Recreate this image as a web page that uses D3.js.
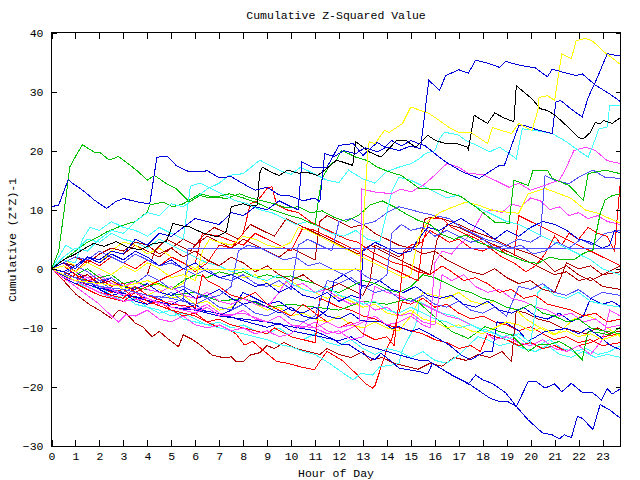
<!DOCTYPE html>
<html>
<head>
<meta charset="utf-8">
<script src="https://cdn.jsdelivr.net/npm/d3@7"></script>
<style>
  body { margin: 0; background: #fff; }
  text { font-family: "Liberation Mono", "DejaVu Sans Mono", monospace; font-size: 11.5px; fill: #000; }
</style>
</head>
<body>
<svg id="chart" width="640" height="480"></svg>
<script>
const hourTicks = d3.range(0, 24);
const valueTicks = [-30, -20, -10, 0, 10, 20, 30, 40];

// [hour, cumulative value] pairs
const greenTop = [[0,0],[0.3,3],[0.6,12],[0.76,17.2],[1,19],[1.29,21],[1.8,19.7],[2.05,19.6],[2.4,18.4],[2.8,19],[3.2,17.8],[3.6,16.5],[4,15],[4.3,15.8],[4.8,14.4],[5.2,13.6],[5.75,11.3],[6.2,12.4],[6.6,12],[7,12.3],[7.43,12.7],[8,12],[8.5,11.3],[9.2,10],[9.86,9.1],[10.4,8.5],[11,7.4],[11.15,12],[11.3,15.3],[11.6,17.5],[11.9,18.4],[12.1,20],[12.4,19.5],[12.7,18.9],[13.2,18.3],[13.6,17.2],[14.1,16.4],[14.6,15.8],[15.35,13.6],[16.2,13.4],[16.7,12.7],[17.1,12.2],[17.7,10.5],[18.1,9.2],[18.5,7.9],[19.1,7.7],[19.3,15],[19.9,14.1],[20.1,16.7],[20.7,16.7],[20.9,15.3],[21.6,14.1],[22.2,11.6],[22.4,16.1],[23.1,16.7],[23.75,16.1]];
const navyA = [[0,10.5],[0.3,10.8],[0.7,15.1],[0.9,14.4],[1.3,13.3],[1.8,11.6],[2.3,10.2],[2.65,11.3],[3,11.9],[3.6,11.3],[4.1,11],[4.4,18.9],[4.85,19],[5.2,17.5],[5.75,16.4],[6.2,16.4],[6.5,16.6],[7,15.4],[7.5,15.6],[8,14.4],[8.5,13.3],[9,13.8],[9.5,12.5],[10,12.3],[10.5,11.5],[11,12],[11.2,11.3],[11.4,19.5],[11.8,19],[12.2,20],[12.7,19.5],[13.1,20.5],[13.6,19.8],[14,20.6],[14.5,20],[15,20.8],[15.4,20.3],[15.75,31.9],[16.2,30.2],[16.45,32.7],[17,33.7],[17.4,33.1],[17.7,35.3],[18.2,34.8],[18.7,34.1],[18.95,35.1],[19.5,34.5],[20.2,34],[20.7,32.5],[20.9,33.8],[21.4,33.2],[21.9,32.7],[22.15,33],[22.7,31.1],[23.3,29.6],[23.75,28.3]];
const navyB = [[0,0],[0.5,1],[1,0],[1.5,2],[2,1.5],[2.5,3],[3,2.5],[3.5,5],[4,4],[4.5,6],[5,5.5],[5.5,7],[6,8.5],[6.5,8],[7,7.5],[7.5,9.5],[8,9],[8.5,10.5],[9,10],[9.5,11.5],[10,10.5],[10.3,10],[10.45,18.1],[10.9,17.2],[11.5,17.2],[12,20.9],[12.6,21.2],[13,19.2],[13.3,20.3],[13.6,21.4],[13.9,20.6],[14.2,21.7],[14.6,20.8],[15,21.7],[15.6,20.8],[16,19.5],[16.45,18.1],[17.15,16.4],[17.85,15.3],[18.3,16.5],[18.7,17.5],[18.9,17.5],[19.5,24.2],[19.8,24.2],[20.2,23.6],[20.9,22.9],[21.05,28.2],[21.25,28.5],[21.7,27],[22.15,25.7],[22.4,29],[22.7,31.6],[23.2,36.4],[23.75,36]];
const blackOne = [[0,0],[0.5,1.5],[1,2.5],[1.75,4.3],[2.2,3.8],[2.7,4.6],[3.2,3.6],[3.7,3.2],[4.2,4.2],[4.8,4.6],[5.07,7.7],[5.4,7.3],[5.76,7.1],[6.3,6.1],[6.9,5.4],[7.3,6.3],[7.5,10.5],[8,11],[8.3,10.6],[8.6,10.8],[8.68,16.1],[8.8,17.2],[9.2,16.3],[9.5,15.8],[9.86,16.7],[10.3,16.2],[10.7,16.3],[11.1,15.8],[11.5,17],[11.9,18.4],[12.2,18],[12.57,17.5],[12.7,21.5],[13.26,19.8],[13.75,18.9],[14.4,21.7],[14.8,21.7],[15.2,20.6],[15.7,22.6],[16.04,21.7],[16.46,21.2],[16.9,21.2],[17.36,20.6],[17.4,20.2],[17.64,26],[18.2,24.6],[18.5,26.4],[18.9,25.5],[19.3,24.9],[19.4,31],[20.05,28.8],[20.4,27.1],[20.7,26.8],[21.05,25.9],[21.5,24.2],[22,22.2],[22.2,22],[22.5,23.1],[22.7,24.8],[22.9,24.5],[23.05,25.1],[23.4,24.6],[23.75,25.6]];
const yellowTop = [[0,0],[0.5,-1],[1,-2],[2,-2.5],[3,-3],[4,-2],[5,-3.5],[5.5,-2.5],[5.7,-0.1],[12.9,-0.1],[13.05,10],[13.2,19.8],[13.26,21.5],[13.5,21.2],[13.9,23.4],[14.1,23.1],[14.65,24.6],[15,27.4],[15.4,26.8],[15.75,26.3],[16.2,25.1],[16.6,23.9],[17,23.1],[17.5,23.1],[18.2,21.2],[18.4,23.9],[18.8,23.4],[19.2,22.9],[19.5,24.6],[20.05,23.4],[20.3,26.8],[20.35,29],[20.7,29.3],[21,28.5],[21.3,36.4],[21.7,35.6],[21.9,38.6],[22.3,39],[22.6,38.5],[23.1,36.6],[23.75,34.6]];
const flatBlue = [[0,0],[0.5,-1],[1,-1.5],[2,-3],[3,-3.5],[4,-4.5],[5,-5],[5.5,-5.5],[5.7,3.45],[23.75,3.45]];
const navyLowA = [[0,0],[0.5,-1.2],[1,-2],[2,-3.3],[3,-4.2],[4,-5.4],[5,-6],[5.5,-5],[6,-6.8],[7,-7.6],[8,-8.8],[9,-9.9],[9.5,-9.2],[10,-10.5],[11,-11.3],[12,-12.2],[12.5,-11.5],[13,-12.8],[14,-14],[14.6,-14.7],[15.35,-15.5],[15.7,-15.5],[15.9,-16],[16.6,-17.7],[17.4,-19.5],[17.7,-18],[18,-18.8],[18.4,-19.4],[18.96,-21],[19.4,-23.3],[19.9,-19.1],[20.2,-19],[20.6,-20.2],[21,-19.5],[21.3,-20.8],[21.7,-19.4],[22.15,-20.9],[22.6,-21],[22.95,-22.2],[23.2,-20.3],[23.4,-21.2],[23.75,-20.3]];
const navyLowB = [[0,0],[0.5,-1],[1,-1.5],[2,-3],[3,-4.5],[4,-5],[5,-6.5],[6,-7],[7,-8],[8,-8.5],[9,-9],[10,-9.8],[10.9,-10.4],[11.7,-11.8],[12.15,-12.9],[12.4,-12.8],[12.85,-14],[13.1,-14.6],[13.5,-15.4],[13.75,-14.3],[14.1,-15.4],[14.5,-16.8],[14.9,-17.1],[15.35,-17.4],[15.7,-17.8],[15.9,-16],[16.7,-18],[17.4,-19.4],[17.9,-20.8],[18.3,-21.9],[18.7,-22.5],[19.05,-22.5],[19.4,-23.3],[19.9,-25.6],[20.5,-27.8],[20.9,-28.1],[21.2,-28.8],[21.4,-28.1],[21.7,-28.6],[21.95,-25],[22.15,-25.3],[22.6,-27.2],[22.9,-23],[23.3,-23.9],[23.75,-25.3]];
const darkRedLow = [[0,0],[0.5,-2],[1.04,-4.4],[1.6,-6.1],[2,-7],[2.5,-8.4],[2.8,-7],[3.1,-7.5],[3.5,-9.2],[3.8,-9.8],[4.2,-11.5],[4.5,-10.6],[4.9,-12],[5.3,-13.2],[5.5,-11.2],[5.9,-12],[6.3,-13.2],[6.7,-14.6],[7,-14.9],[7.3,-15.1],[7.5,-14.9],[7.7,-15.7],[8,-15.7],[8.3,-14.6],[8.7,-14.2],[9,-13],[9.3,-13.5],[9.7,-12.5],[10.2,-13.5],[10.7,-14],[11.2,-14.5],[11.5,-13.5],[12,-14.5],[12.5,-15],[13,-14],[13.3,-15.5],[13.8,-15],[14.3,-16],[14.8,-16.5],[15.3,-17],[15.8,-16],[16.3,-16.5],[16.8,-15],[17.3,-15.5],[17.8,-14.5],[18.3,-15],[18.8,-14],[19.2,-15.7],[19.4,-7],[19.8,-7.5],[20.3,-8.5],[20.8,-9],[21.3,-10],[21.8,-10.5],[22.3,-11],[22.8,-10],[23.3,-11],[23.75,-10.5]];
const darkRedB = [[0,0],[0.5,1],[1,2],[1.5,1],[2,2.5],[2.5,3.5],[3,3],[3.5,4.5],[4,4],[4.5,2.5],[5,3.5],[5.5,2],[6,3],[6.5,1.5],[7,0.5],[7.5,2],[8,1],[8.5,-0.5],[9,0.5],[9.5,-1],[10,-2],[10.5,-1],[11,-2.5],[11.5,-3.5],[12,-2.5],[12.5,-3.5],[13,-4.5],[13.3,-2],[13.5,4],[14,3],[14.5,2],[15,3.5],[15.3,4],[15.6,8.5],[16,8.8],[16.5,8.2],[17,7.5],[17.5,6.5],[18,5.8],[18.5,5],[19,4],[19.5,3.2],[20,2.5],[20.5,1.5],[21,-0.5],[21.5,0.5],[22,-1],[22.5,-2],[23,-1],[23.75,0.5]];
const darkRedC = [[0,0],[0.5,1],[1,0.5],[1.5,2],[2,1],[2.5,3],[3,2.5],[3.5,4],[4,3],[4.5,2],[5,3.5],[5.5,5],[6,4],[6.5,5.5],[7,4.5],[7.5,3.5],[8,5],[8.5,4],[9,3],[9.5,2],[10,3.5],[10.5,2.5],[11,1.5],[11.2,8],[11.5,9],[12,8],[12.5,7],[13,7.5],[13.5,6],[14,5],[14.5,4],[15,3.5],[15.5,2.5],[16,3],[16.5,1.5],[17,0.5],[17.5,-0.5],[18,-1],[18.5,0],[19,-1.5],[19.5,-2.5],[20,-2],[20.5,-3.5],[21,-4],[21.2,-2],[21.5,1],[22,0],[22.5,0.5],[23,-1],[23.75,-0.5]];
const darkRedD = [[0,0],[0.5,-0.5],[1,-1.5],[1.5,-1],[2,-2.5],[2.5,-2],[3,-3],[3.5,-2.5],[4,-1],[4.3,3],[4.8,5],[5.3,4],[5.8,3],[6.3,5.5],[6.8,7],[7.3,6],[7.8,5],[8.3,7.5],[8.8,6.5],[9.3,5.5],[9.8,8.5],[10.3,7.5],[10.8,6.5],[11.3,5.5],[11.8,4.5],[12.3,3.5],[12.8,2.5],[13.3,4],[13.8,3],[14.3,2],[14.8,1],[15.3,0],[15.8,-1],[16.1,5],[16.5,7.5],[17,7],[17.5,6],[18,5],[18.5,4],[19,3],[19.5,2],[20,1],[20.5,0],[21,-1],[21.5,-0.5],[22,-2],[22.5,-1.5],[23,-3],[23.75,-3.5]];
const redSpike = [[0,0],[0.5,-1],[1,-2],[1.5,-1],[2,-3],[2.5,-4],[3,-3.5],[3.5,-5],[4,-6],[4.5,-5.5],[5,-7],[5.5,-8],[6,-7.5],[6.5,-9],[7,-10],[7.43,-10.4],[7.7,-11],[8.05,-12.9],[8.4,-12.3],[8.8,-13.7],[9.4,-15.7],[9.86,-16],[10.4,-16.6],[10.97,-17.1],[11.25,-15.4],[11.5,-14],[12.1,-15.4],[12.7,-17.7],[13.1,-19.4],[13.4,-20.2],[13.5,-19.8],[13.9,-14.9],[14,-13.4],[14.2,-12],[14.45,-8],[14.65,-5.6],[15,-6],[15.5,-5],[16,-6.5],[16.5,-6],[17,-7.5],[17.5,-8.5],[18,-8],[18.5,-9],[19,-9.5],[19.5,-10.5],[20,-9.8],[20.5,-11],[21,-12],[21.5,-11.5],[22,-12.5],[22.5,-12],[23,-13],[23.75,-12.5]];
const redA = [[0,0],[0.5,-2],[1,-1],[1.5,-3],[2,-4],[3,-5],[3.5,-3],[4,-4.5],[5,-6],[6,-6.5],[6.3,-1],[6.5,-2],[7,-3],[7.5,-4.5],[8,-5],[8.5,-4],[9,-6],[9.5,-7],[10,-8],[10.5,-6],[11,-7.5],[11.5,-9],[12,-10],[12.5,-9],[13,-11],[13.5,-12],[14,-11.5],[14.3,-13],[14.6,-2],[14.7,3],[15,4],[15.5,4.5],[15.8,8.5],[16.3,8.6],[16.7,7],[17.2,6],[17.8,5],[18.3,3.5],[18.8,2],[19.3,1],[19.8,-0.5],[20.2,0.5],[20.6,2.5],[21,5.5],[21.3,4],[21.6,6],[22,5],[22.4,7],[22.8,6],[23.2,5.5],[23.5,3],[23.6,8],[23.75,15]];
const redB = [[0,0],[0.5,1],[1,-0.5],[1.5,1.5],[2,0.5],[2.5,2],[3,1],[3.5,0],[4,1.5],[4.5,0.5],[5,2],[5.5,1],[6,-0.5],[6.5,1],[7,4],[7.5,3.5],[8,6],[8.3,11],[8.6,11.5],[9,13.6],[9.2,13.9],[9.4,10.8],[9.8,10],[10.3,9.5],[10.8,8],[11.3,7],[11.8,6],[12.3,5],[12.8,4.5],[13.3,3],[13.8,2],[14.3,1],[14.8,0.5],[15.3,-0.5],[15.8,-1],[16.3,0.5],[16.7,-0.5],[17.2,-2],[17.7,-1.5],[18.2,-2.5],[18.7,-4],[19.2,-3.5],[19.7,-5],[20.2,-4.5],[20.7,-6],[21.2,-6.5],[21.7,-7],[22.2,-8],[22.7,-7.5],[23.2,-9],[23.75,-8.5]];
const redC = [[0,0],[0.5,0.5],[1,-1],[1.5,-2],[2,-1.5],[2.5,-3],[3,-2.5],[3.5,-4],[4,-3],[4.5,-2],[5,-1],[5.5,0],[6,1],[6.3,6],[7,5.5],[8,4],[8.5,6],[9,5],[9.5,4],[10,3],[10.5,7],[11,6.5],[11.5,5.5],[12,4.5],[12.5,3.5],[13,2.5],[13.5,1.5],[14,0.5],[14.5,-0.5],[15,-1.5],[15.3,-2],[15.5,5],[15.8,6.5],[16.2,5.5],[16.6,4.5],[17,5],[17.5,3.5],[18,3],[18.5,4],[19,2.5],[19.3,2],[19.5,9],[20,8],[20.5,7],[21,6],[21.5,5],[22,4],[22.5,3],[23,2],[23.5,1],[23.75,0.5]];
const redD = [[0,0],[0.5,-1.5],[1,-2.5],[2,-4.5],[3,-5.5],[3.5,-4],[4,-5.5],[5,-7],[6,-8],[6.5,-9],[7,-8.5],[7.5,-9.5],[8,-10],[9,-11],[9.3,-10],[10,-11.5],[10.5,-12],[11,-12.5],[11.2,-5],[11.5,-5.5],[12,-6.5],[12.5,-7],[13,-8],[13.5,-8.5],[14,-9.5],[14.5,-10],[15,-10.5],[15.5,-11],[16,-12],[16.5,-12.5],[17,-13.5],[17.5,-13],[17.9,-14],[18.2,-11],[18.5,-11.5],[19,-12],[19.5,-13],[20,-12.5],[20.5,-13.5],[21,-13],[21.5,-14],[22,-13],[22.5,-12.5],[23,-11.5],[23.75,-11]];
const cyanUp = [[0,0],[0.5,2],[1,3.5],[1.5,3],[2,5],[2.5,6.5],[3,6],[3.5,8],[4,9.5],[4.5,9],[5,11],[5.5,10.5],[6,12],[6.5,13.5],[7,14.5],[7.4,15.8],[8,16.1],[8.7,18.4],[9.1,17.5],[9.6,16.5],[10,16],[10.4,17.2],[11,16],[11.5,15],[12,14.6],[12.4,16.7],[13,15.2],[13.5,14.5],[14,16.5],[14.5,17.2],[15,17.8],[15.35,18.6],[15.6,19.5],[16,20],[16.2,22],[16.4,23.1],[16.7,22.9],[17,22.6],[17.3,21.7],[17.8,20.8],[18.3,19.8],[18.7,20.6],[19.1,19.5],[19.4,18.6],[19.65,23.7],[20.2,23.4],[20.9,22.9],[21.5,21.5],[22,20],[22.4,18.9],[22.6,20.9],[22.85,23.7],[23.2,24],[23.3,27.7],[23.75,27.7]];
const cyanUp2 = [[0,0],[0.5,1.5],[1,1],[1.3,5],[1.6,7],[2,6.5],[2.5,8],[3,7],[3.5,6.5],[4,5.5],[4.5,7],[5,6],[5.5,5],[5.8,14],[6.2,14.5],[6.7,13.5],[7.2,12.5],[7.7,11.5],[8.2,11],[8.7,10],[9.2,9.5],[9.7,8.5],[10.2,7.5],[10.7,8],[11.2,7],[11.7,6],[12.2,5.5],[12.7,6.5],[13.2,5],[13.7,4.5],[14.2,13],[14.5,15.5],[15,15],[15.5,14],[16,13],[16.5,12],[17,12.5],[17.5,11],[18,10],[18.5,9],[19,8],[19.5,7.5],[20,6.5],[20.5,5.5],[21,4.5],[21.5,3.5],[22,2.5],[22.5,1.5],[23,0],[23.75,-1]];
const cyanMid = [[0,0],[0.3,2],[0.6,4],[1,3],[1.5,5],[2,4.5],[2.5,6],[3,5],[3.5,4.5],[4,3.5],[4.5,5],[5,4],[5.5,3],[6,2],[6.5,1],[7,0.5],[7.5,-0.5],[8,0],[8.5,-1.5],[9,-2],[9.5,-1],[10,-2.5],[10.5,-3.5],[11,-4],[11.5,-3],[12,-4.5],[12.5,-5],[13,-6],[13.5,-5.5],[14,-7],[14.5,-7.5],[15,-6.5],[15.5,-7.5],[16,-8.5],[16.5,-9],[17,-10],[17.5,-9.5],[18,-10.5],[18.5,-11],[19,-12],[19.5,-11],[20,-12.5],[20.3,-4],[20.6,-3],[21,-4.5],[21.5,-5],[22,-4],[22.5,-5.5],[23,-6],[23.75,-6.5]];
const cyanLow = [[0,0],[0.5,-1.5],[1,-2.5],[1.5,-3],[2,-4],[2.5,-5],[3,-4.5],[3.5,-6],[4,-6.5],[4.5,-7.5],[5,-7],[5.5,-8.5],[6,-9],[6.5,-9.5],[7,-10],[7.5,-10.5],[8,-11],[8.5,-11.5],[9,-12],[9.5,-12.8],[10,-13.2],[10.5,-14],[11,-14.5],[11.6,-16],[12.3,-18],[12.6,-18.8],[12.9,-17.7],[13.4,-18],[13.7,-16.6],[14.2,-16.3],[14.5,-16],[14.65,-13.7],[15.2,-9.5],[15.35,-5.6],[15.8,-6.5],[16.3,-7.5],[16.8,-8],[17.3,-9],[17.8,-10],[18.3,-10.5],[18.8,-11.5],[19.3,-11],[19.8,-12.5],[20.3,-13],[20.8,-12],[21.3,-13.5],[21.8,-14],[22.3,-13.5],[22.8,-14.5],[23.3,-14],[23.75,-13]];
const cyanLow2 = [[0,0],[0.5,-1],[1,-2],[1.5,-3.5],[2,-3],[2.5,-4.5],[3,-5.5],[3.5,-5],[4,-6.5],[4.5,-7],[5,-8],[5.5,-7.5],[6,-8.5],[6.5,-9.5],[7,-9],[7.5,-10],[8,-9.5],[8.5,-10.5],[9,-11],[9.5,-10],[10,-11.5],[10.5,-12],[11,-11],[11.5,-12.5],[12,-13],[12.5,-12],[13,-13.5],[13.5,-14.5],[14,-13.5],[14.5,-14],[15,-15],[15.5,-14],[16,-15.5],[16.5,-16],[17,-14.6],[17.4,-13],[17.8,-11.5],[18.2,-12],[18.7,-13],[19.2,-12.5],[19.7,-13.5],[20.2,-14],[20.7,-13],[21.2,-14.5],[21.7,-15],[22.2,-14],[22.7,-15],[23.2,-14.5],[23.75,-15]];
const magUp = [[0,0],[0.5,-1.5],[1,-2],[2,-4],[3,-5.5],[4,-5],[5,-6.5],[6,-7.5],[6.5,-6.5],[7,-8],[8,-7.5],[9,-9],[9.5,-8],[10,-9.5],[11,-10],[11.5,-9],[12,-10],[12.5,-9.5],[12.85,-9],[12.95,13.5],[13.5,13],[14.2,12.7],[14.6,13.5],[15,13],[15.5,14.1],[15.9,15.5],[16.5,17.8],[17,17.2],[17.4,16.1],[18,16],[18.5,15],[19.1,13.8],[19.5,14.5],[20,13.3],[20.5,14],[21.2,15],[21.5,17.2],[21.8,20],[22.3,20.6],[22.7,20],[23.2,18.3],[23.75,17.8]];
const magUp2 = [[0,0],[0.5,-1],[1,-2],[1.5,-1.5],[2,-3],[2.5,-3.5],[3,-4.5],[3.5,-4],[4,-5],[4.5,-6],[5,-5.5],[5.5,-6.5],[6,-7],[6.5,-6],[7,-7.5],[7.5,-8],[8,-7],[8.5,-8.5],[9,-9],[9.5,-8],[10,-9.5],[10.5,-10],[11,-9],[11.5,-10.5],[12,-11],[12.5,-10],[13,-9],[13.5,-8],[14,-9.5],[14.5,-9],[15,-8],[15.5,-9.5],[15.8,-10],[16,1],[16.3,3],[16.7,2.5],[17,4],[17.3,5],[17.6,6.5],[18,9.5],[18.4,10],[18.8,9.5],[19.2,11],[19.6,10.5],[20,12],[20.4,11.5],[20.8,10],[21.2,10.5],[21.6,9],[22,9.5],[22.4,8.5],[22.8,9],[23.2,8],[23.75,7.5]];
const magMid = [[0,0],[0.5,0.5],[1,-0.5],[1.5,-1.5],[2,-1],[2.5,-2.5],[3,-3],[3.5,-2],[4,-3.5],[4.5,-4],[5,-3],[5.5,-4.5],[6,-5],[6.5,-4],[7,-5.5],[7.5,-6],[8,-5],[8.5,-6],[9,-6.5],[9.5,-4],[9.8,-2],[10,-3],[10.5,-2.5],[11,-4],[11.5,-3.5],[12,-5],[12.5,-6],[13,-5.5],[13.5,-7],[14,-6.5],[14.5,-8],[15,-7.5],[15.5,-9],[16,-9.5],[16.3,-1],[16.7,-2],[17.2,-1],[17.7,-3],[18.2,-4],[18.7,-3.5],[19.2,-5],[19.7,-5.5],[20.2,-6.5],[20.7,-7],[21.2,-8],[21.7,-7.5],[22.2,-9],[22.7,-8.5],[23.2,-10],[23.75,-9.5]];
const magLow = [[0,0],[0.5,-1.5],[1,-3],[1.5,-4.5],[2,-6],[2.5,-8],[2.8,-9],[3.1,-7.8],[3.5,-8],[4,-7],[4.5,-8.5],[5,-9],[5.5,-8],[6,-9.5],[6.5,-10],[7,-9.5],[7.5,-10.5],[8,-10],[8.5,-11],[9,-10.5],[9.5,-11.5],[10,-11],[10.5,-9],[11,-10],[11.5,-11],[12,-10.5],[12.5,-12],[13,-11.5],[13.5,-3],[14,-4],[14.5,-4.5],[15,-5.5],[15.5,-6],[16,-7],[16.5,-8],[17,-8.5],[17.5,-9.5],[18,-10.5],[18.5,-12],[19,-11.5],[19.5,-12.5],[20,-13],[20.5,-12],[21,-13.5],[21.5,-14],[22,-13],[22.5,-14.5],[23,-12],[23.3,-7],[23.75,-8]];
const greenMid = [[0,0],[0.5,1.5],[1,3],[1.5,4.5],[2,5.5],[2.3,6.25],[3,7.4],[3.5,8],[4,9.6],[4.1,10.8],[4.65,11.3],[5.07,10.5],[5.5,11],[6.2,12.7],[6.7,12.2],[7.3,11.9],[7.85,12.7],[8.3,12],[8.8,11.5],[9.3,11],[9.8,10.3],[10.3,10.5],[10.8,9.5],[11.3,9.8],[11.8,8.7],[12.3,8],[12.8,9],[13.3,10.8],[13.8,11.5],[14.3,10.5],[14.8,9.3],[15.3,8.2],[15.8,7.5],[16.3,5.8],[16.8,5],[17.3,5.7],[17.8,4.5],[18.3,3.8],[18.8,2.8],[19.3,2],[19.8,1.2],[20.3,0.9],[20.8,2],[21.3,1.5],[21.8,1.5],[22.2,2.6],[22.6,3.2],[22.9,9.3],[23.1,11.6],[23.4,12.4],[23.75,12.7]];
const greenLow = [[0,0],[0.5,-1],[1,-1.5],[2,-2.5],[3,-3],[4,-3.5],[5,-4.5],[6,-4],[7,-5.5],[8,-5],[9,-6.5],[10,-6],[11,-6.5],[12,-7],[13,-5.5],[14,-6],[15,-5],[15.35,-5.8],[15.9,-7.8],[16.7,-10.6],[17.4,-11.8],[18.1,-9.8],[18.6,-10.5],[19.2,-11.2],[19.9,-14],[20.3,-12.9],[20.8,-12.8],[21.2,-12.3],[21.7,-13.5],[22.15,-15.4],[22.4,-10.6],[22.8,-10.8],[23.3,-11.2],[23.75,-9.8]];
const greenLow2 = [[0,0],[0.5,0.5],[1,-1],[1.5,0],[2,-1.5],[2.5,-1],[3,-2.5],[3.5,-2],[4,-3],[4.5,-2.5],[5,-3.5],[5.5,-2],[6,-1],[6.5,-1.5],[7,-0.5],[7.5,-1],[8,-0.5],[8.5,-1.5],[9,-1],[9.5,-1.5],[10,-1.2],[10.5,-2],[11,-2.5],[11.5,-3.5],[12,-4],[12.5,-3],[13,-2],[13.5,-2.5],[14,-3.5],[14.5,-4],[15,-3],[15.5,-1],[16,-1.5],[16.5,-2.5],[17,-3.5],[17.5,-4],[18,-5],[18.5,-5.5],[19,-6.5],[19.5,-7],[20,-6],[20.5,-7.5],[21,-8],[21.5,-9],[22,-8.5],[22.5,-10],[23,-10.5],[23.75,-11]];
const yellowMid = [[0,0],[0.5,0.5],[1,-0.5],[1.5,1],[2,0],[2.5,-1],[3,0.5],[3.5,-0.5],[4,1],[4.5,0],[5,-1.5],[5.5,-1],[6,-2],[6.3,3],[6.6,5],[7,4.5],[7.5,4],[8,5.5],[8.5,5],[9,4],[9.5,3.5],[10,4.5],[10.3,7],[10.7,6.5],[11.2,5.5],[11.7,4.5],[12.2,3.5],[12.7,2.5],[13.2,1.5],[13.7,0.5],[14.2,-0.5],[14.7,-1.5],[15,-1],[15.3,5],[15.7,8],[16.2,9.5],[16.6,10.2],[17.3,11.3],[17.8,10.8],[18.4,9.9],[19,9.6],[19.5,9.4],[19.9,12.7],[20.6,13.6],[21.2,12.7],[21.7,11.9],[22.3,9.9],[22.8,9.4],[23.3,8.5],[23.75,7.7]];
const yellowLow = [[0,0],[0.5,-0.5],[1,-1.5],[1.5,-1],[2,-2.5],[2.5,-2],[3,-3.5],[3.5,-3],[4,-4.5],[4.5,-3.5],[5,-5],[5.5,-4.5],[6,-6],[6.5,-5.5],[7,-7],[7.5,-6.5],[8,-5],[8.5,-6],[9,-7],[9.5,-6.5],[10,-8],[10.5,-7.5],[11,-8.5],[11.5,-9],[12,-8],[12.5,-9.5],[13,-10],[13.5,-9],[14,-10],[14.5,-10.5],[15,-8],[15.5,-4],[16,-4.5],[16.5,-5],[17,-4],[17.5,-5.5],[18,-6],[18.5,-5.5],[19,-6.5],[19.4,-7],[19.8,-8.5],[20.2,-9.5],[20.6,-10.5],[21,-11.2],[21.4,-10],[21.8,-8.5],[22.3,-7.8],[22.7,-8.5],[23.2,-10],[23.75,-11.5]];
const yellowEarly = [[0,0],[0.5,1.5],[1,0.5],[1.5,2],[2,1],[2.5,3],[3,4.5],[3.5,4],[4,2.5],[4.5,3.5],[5,2],[5.5,1],[6,0],[6.5,1.5],[7,0.5],[7.5,-0.5],[8,-1.5],[8.5,-1],[9,-2.5],[9.5,-3],[10,-2],[10.5,-3.5],[11,-4],[11.5,-5],[12,-4.5],[12.5,-5.5],[13,-6.5],[13.5,-6],[14,-7.5],[14.5,-8],[15,-7],[15.5,-8.5],[16,-9],[16.5,-10],[17,-9.5],[17.5,-10.5],[18,-11],[18.5,-10],[19,-9],[19.5,-9.5],[20,-10.5],[20.5,-10],[21,-11],[21.5,-10.5],[22,-11.5],[22.5,-11],[23,-12],[23.75,-11]];
const lightBlueA = [[0,0],[0.5,-1],[1,0.5],[1.5,-0.5],[2,-2],[2.5,-1.5],[3,-3],[3.5,-2.5],[4,-1],[4.5,-2],[5,-3.5],[5.5,-3],[6,-4],[6.5,-5],[7,-4.5],[7.5,-3],[7.8,3],[8.2,4],[8.7,3.5],[9.2,2.5],[9.7,1.5],[10.2,2],[10.7,0.5],[11.2,1],[11.7,0],[12.2,-1],[12.7,0],[13.2,-1.5],[13.7,-2],[14,-1],[14.2,6],[14.6,7.5],[15,6.5],[15.5,7],[16,5.5],[16.5,6.5],[17,5.5],[17.5,4.5],[18,5],[18.5,3.5],[19,4],[19.5,5],[20,4.5],[20.4,5.5],[20.6,15.8],[21,15],[21.6,14.4],[22,15.5],[22.6,16.7],[23.1,15.5],[23.75,15.3]];
const lightBlueB = [[0,0],[0.5,1],[1,2],[1.5,1.5],[2,3],[2.5,2],[3,1],[3.5,2.5],[4,1.5],[4.5,0.5],[5,1],[5.5,0],[6,-1],[6.5,0],[7,-1.5],[7.5,-2],[8,-1],[8.5,-2.5],[9,-3],[9.5,-2],[10,-3.5],[10.3,4],[10.7,5],[11.2,4],[11.7,3],[12,8],[12.5,8.5],[13,7.5],[13.5,8],[14,9.5],[14.5,10.5],[15,10],[15.35,9.6],[15.9,9.1],[16.6,8.5],[17.1,7],[17.6,6],[18.1,5],[18.6,4.5],[19.1,3.5],[19.6,4],[20.1,2.5],[20.6,3],[21.1,4.5],[21.6,3.5],[22.1,5],[22.6,4],[23.1,6],[23.75,6.5]];
const lightBlueC = [[0,0],[0.5,-1],[1,-2],[1.5,-2.5],[2,-2],[2.5,-3.5],[3,-4],[3.5,-3],[4,-4.5],[4.5,-5],[5,-4],[5.5,-5.5],[6,-6],[6.5,-5],[7,-6.5],[7.5,-7],[8,-6],[8.5,-7.5],[9,-8],[9.5,-7],[10,-8.5],[10.5,-9],[11,-8],[11.5,-2],[12,-2.5],[12.5,-1.5],[13,-3],[13.5,-4],[14,-3.5],[14.5,-5],[15,-5.5],[15.5,-4.5],[16,-6],[16.5,-6.5],[17,-5.5],[17.5,-7],[18,-7.5],[18.5,-6.5],[19,-8],[19.5,-3],[20,-3.5],[20.5,-2.5],[21,-4],[21.5,-4.5],[22,-3.5],[22.5,-5],[23,-4],[23.75,-4.5]];
const navyMid = [[0,0],[0.5,-1.5],[1,-2.5],[1.5,-2],[2,-3.5],[2.5,-4.5],[3,-4],[3.5,-5.5],[4,-6],[4.5,-5],[5,-6.5],[5.5,-7],[6,-6],[6.5,-7.5],[7,-8],[7.5,-7],[8,-4],[8.5,-5],[9,-6],[9.5,-5.5],[10,-7],[10.5,-7.5],[11,-6.5],[11.5,-8],[12,-8.5],[12.5,-7.5],[12.9,-8.7],[13.26,-9],[13.8,-9],[14.2,-10.1],[14.5,-9.8],[15,-10.6],[15.35,-10.1],[16,-11.5],[16.6,-12.9],[17.1,-14.6],[17.5,-15.4],[18.1,-14],[18.4,-14],[18.6,-9],[19,-9.2],[19.5,-10.5],[19.9,-12.3],[20.6,-10.6],[21.5,-10.1],[22,-11],[22.4,-10.1],[22.9,-11.5],[23.3,-12.9],[23.75,-13.7]];
const navyC = [[0,0],[0.5,-0.5],[1,0.5],[1.5,2],[2,1],[2.5,2.5],[3,1.5],[3.5,3],[4,2],[4.5,0.5],[5,1.5],[5.5,0],[6,1],[6.5,-0.5],[7,-1.5],[7.5,-1],[8,-2],[8.5,-3],[9,-2.5],[9.5,-4],[10,-3],[10.5,-4.5],[11,-5],[11.5,-4],[12,-5.5],[12.5,-4.5],[12.9,-5],[13,3],[13.5,4.5],[14,3.5],[14.5,2.5],[15,3],[15.3,5],[15.7,7],[16.2,6.5],[16.6,7.5],[17.1,8.5],[17.5,7.5],[18,6.5],[18.5,5],[19,6.5],[19.5,5.5],[20,7],[20.5,8],[21,7.5],[21.5,6.5],[22,5],[22.5,4.5],[23,3.5],[23.3,4],[23.5,6.5],[23.75,6]];
const navyD = [[0,0],[0.5,-1],[1,-0.5],[1.5,-2],[2,-2.5],[2.5,-1.5],[3,-3],[3.5,-3.5],[4,-2.5],[4.5,-4],[5,-4.5],[5.5,-3.5],[6,-5],[6.5,-4.5],[7,-3.5],[7.5,-5],[8,-6],[8.5,-5.5],[9,-6.5],[9.5,-7.5],[10,-6.5],[10.5,-8],[11,-8.5],[11.5,-7],[11.8,-2],[12.2,-1],[12.7,-2.5],[13.2,-3],[13.7,-2],[14.2,-3.5],[14.7,-4],[15.2,-3],[15.7,-4.5],[16.2,-5],[16.7,-4.5],[17.2,-6],[17.7,-6.5],[18.2,-5.5],[18.7,-7],[19.2,-7.5],[19.7,-6.5],[20.2,-8],[20.7,-8.5],[21.2,-7.5],[21.7,-9],[22.2,-8],[22.5,-5],[23,-6],[23.4,-5.5],[23.75,-6.4]];

const red = "#ff0000", darkRed = "#b00000", green = "#00c000", navy = "#0000d8",
      lightBlue = "#5050ff", magenta = "#ff44ff", cyan = "#40ffff", yellow = "#ffff00", black = "#000000";

const series = [
  { color: darkRed, values: darkRedLow },
  { color: red, values: redSpike },
  { color: cyan, values: cyanLow },
  { color: cyan, values: cyanLow2 },
  { color: navy, values: navyLowB },
  { color: navy, values: navyLowA },
  { color: red, values: redD },
  { color: magenta, values: magLow },
  { color: green, values: greenLow },
  { color: darkRed, values: darkRedC },
  { color: yellow, values: yellowLow },
  { color: navy, values: navyMid },
  { color: yellow, values: yellowEarly },
  { color: lightBlue, values: lightBlueC },
  { color: navy, values: navyD },
  { color: magenta, values: magMid },
  { color: darkRed, values: darkRedD },
  { color: green, values: greenLow2 },
  { color: red, values: redC },
  { color: cyan, values: cyanMid },
  { color: magenta, values: magUp2 },
  { color: darkRed, values: darkRedB },
  { color: red, values: redB },
  { color: red, values: redA },
  { color: lightBlue, values: lightBlueB },
  { color: navy, values: navyC },
  { color: yellow, values: yellowMid },
  { color: lightBlue, values: lightBlueA },
  { color: lightBlue, values: flatBlue },
  { color: green, values: greenMid },
  { color: cyan, values: cyanUp2 },
  { color: magenta, values: magUp },
  { color: cyan, values: cyanUp },
  { color: green, values: greenTop },
  { color: navy, values: navyB },
  { color: black, values: blackOne },
  { color: yellow, values: yellowTop },
  { color: navy, values: navyA },
];

const margin = { top: 32.5, right: 19.5, bottom: 34, left: 51.5 };
const width = 640, height = 480;

const svg = d3.select("#chart");
svg.append("rect").attr("width", width).attr("height", height).attr("fill", "#fff");

const x = d3.scaleLinear().domain([0, 23.75]).range([margin.left, width - margin.right]);
const y = d3.scaleLinear().domain([-30, 40]).range([height - margin.bottom, margin.top]);

const line = d3.line().x(d => x(d[0])).y(d => y(d[1]));

svg.append("g")
  .selectAll("path")
  .data(series)
  .enter()
  .append("path")
  .attr("fill", "none")
  .attr("stroke", d => d.color)
  .attr("stroke-width", 1)
  .attr("shape-rendering", "crispEdges")
  .attr("d", d => line(d.values));

// ticks on all four sides, pointing inward
svg.append("g")
  .attr("transform", "translate(0," + y(-30) + ")")
  .call(d3.axisBottom(x).tickValues(hourTicks).tickSize(-6).tickPadding(6).tickFormat(d3.format("d")))
  .call(g => g.select(".domain").remove());
svg.append("g")
  .attr("transform", "translate(0," + y(40) + ")")
  .call(d3.axisTop(x).tickValues(hourTicks).tickSize(-6).tickFormat(""))
  .call(g => g.select(".domain").remove());
svg.append("g")
  .attr("transform", "translate(" + x(0) + ",0)")
  .call(d3.axisLeft(y).tickValues(valueTicks).tickSize(-5).tickPadding(8))
  .call(g => g.select(".domain").remove());
svg.append("g")
  .attr("transform", "translate(" + x(23.75) + ",0)")
  .call(d3.axisRight(y).tickValues(valueTicks).tickSize(-5).tickFormat(""))
  .call(g => g.select(".domain").remove());

svg.selectAll(".tick line").attr("stroke", "#000").attr("shape-rendering", "crispEdges");
svg.selectAll(".tick text")
  .style("font-family", "Liberation Mono, DejaVu Sans Mono, monospace")
  .style("font-size", "11.5px")
  .attr("fill", "#000");

svg.append("rect")
  .attr("x", x(0)).attr("y", y(40))
  .attr("width", x(23.75) - x(0)).attr("height", y(-30) - y(40))
  .attr("fill", "none").attr("stroke", "#000").attr("stroke-width", 1)
  .attr("shape-rendering", "crispEdges");

svg.append("text").attr("x", 336).attr("y", 19).attr("text-anchor", "middle").text("Cumulative Z-Squared Value");
svg.append("text").attr("x", 336).attr("y", 477).attr("text-anchor", "middle").text("Hour of Day");
svg.append("text")
  .attr("transform", "translate(16,240) rotate(-90)")
  .attr("text-anchor", "middle")
  .text("Cumulative (Z*Z)-1");
</script>
</body>
</html>
